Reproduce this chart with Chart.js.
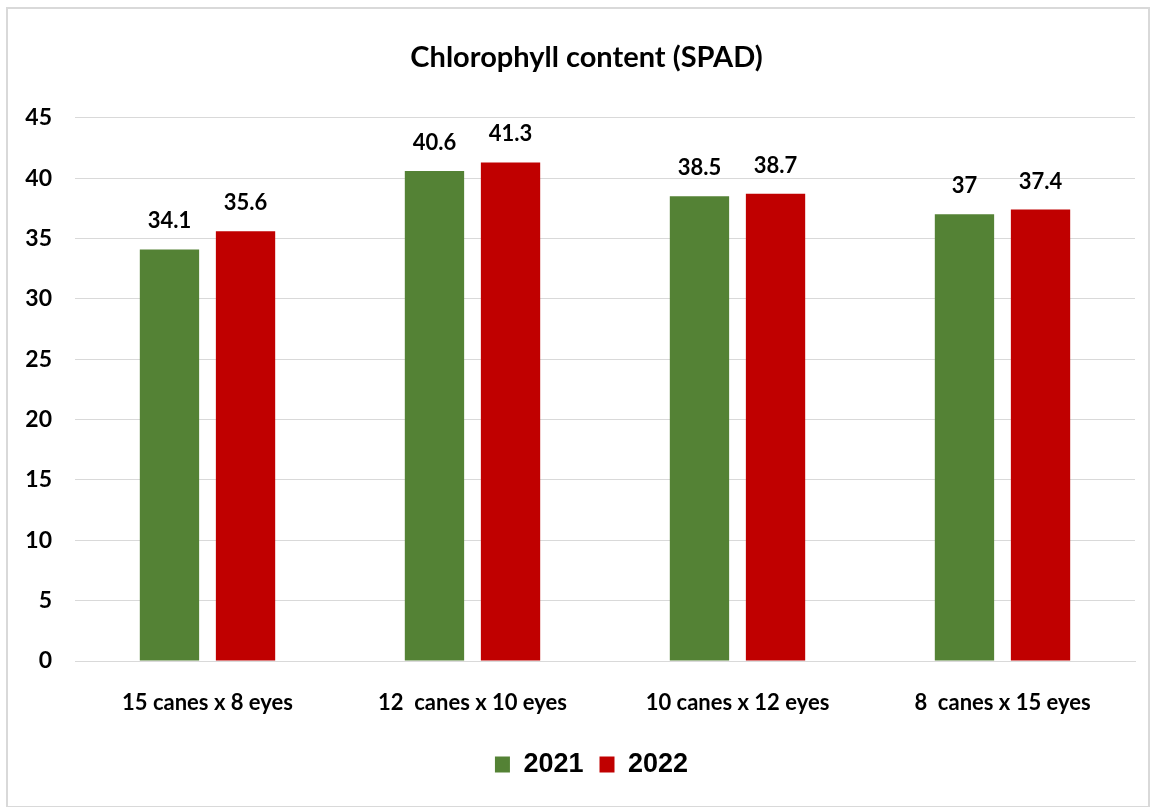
<!DOCTYPE html>
<html>
<head>
<meta charset="utf-8">
<script src="https://cdn.jsdelivr.net/npm/chart.js@4.4.0/dist/chart.umd.min.js"></script>
<style>
  body { margin: 0; background: #fff; }
  #wrap { position: absolute; left: 0; top: 0; width: 1156px; height: 807px; }
  #frame { position: absolute; left: 6px; top: 7px; width: 1140px; height: 797px;
           border: 2px solid #d9d9d9; pointer-events: none; }
</style>
</head>
<body>
<div id="wrap"><canvas id="chart" width="1156" height="807"></canvas></div>
<div id="frame"></div>
<script>
var categories = ["15 canes x 8 eyes", "12  canes x 10 eyes", "10 canes x 12 eyes", "8  canes x 15 eyes"];
var values2021 = [34.1, 40.6, 38.5, 37];
var values2022 = [35.6, 41.3, 38.7, 37.4];
var yTicks = [0, 5, 10, 15, 20, 25, 30, 35, 40, 45];

var labelFont = "Lato, 'Open Sans', sans-serif";

// value labels above each bar
var barValues = {
  id: "barValues",
  afterDatasetsDraw: function(chart) {
    var ctx = chart.ctx;
    ctx.save();
    ctx.font = "bold 22px " + labelFont;
    ctx.fillStyle = "#000";
    ctx.textAlign = "center";
    ctx.textBaseline = "alphabetic";
    chart.data.datasets.forEach(function(ds, i) {
      chart.getDatasetMeta(i).data.forEach(function(bar, j) {
        ctx.fillText(String(ds.data[j]), bar.x, bar.y - 21);
      });
    });
    ctx.restore();
  }
};

// nudge title and legend to the right, like the original
var nudge = {
  id: "nudge",
  afterLayout: function(chart) {
    chart.legend.left += 19; chart.legend.right += 19;
    chart.titleBlock.left += 14; chart.titleBlock.right += 14;
  }
};

new Chart(document.getElementById("chart"), {
  type: "bar",
  data: {
    labels: categories,
    datasets: [
      { label: "2021", data: values2021, backgroundColor: "#548235" },
      { label: "2022", data: values2022, backgroundColor: "#c00000" }
    ]
  },
  options: {
    responsive: false,
    animation: false,
    layout: { padding: { left: 10, right: 21, top: 0, bottom: 19 } },
    datasets: { bar: { categoryPercentage: 0.574, barPercentage: 0.78 } },
    plugins: {
      tooltip: { enabled: false },
      title: {
        display: true,
        text: "Chlorophyll content (SPAD)",
        color: "#000",
        font: { family: labelFont, size: 29, weight: "bold" },
        padding: { top: 40, bottom: 43 }
      },
      legend: {
        position: "bottom",
        labels: {
          color: "#000",
          font: { family: "'Liberation Sans', Arial, sans-serif", size: 27, weight: "bold" },
          boxWidth: 15,
          boxHeight: 16,
          padding: 16
        }
      }
    },
    scales: {
      x: {
        grid: { display: false, drawTicks: false },
        border: { display: true, color: "#d9d9d9", width: 1 },
        ticks: { color: "#000", padding: 29, font: { family: labelFont, size: 22, weight: "bold" } },
        afterFit: function(scale) { scale.height = 74; }
      },
      y: {
        min: 0,
        max: 45,
        afterBuildTicks: function(scale) {
          scale.ticks = yTicks.map(function(v) { return { value: v }; });
        },
        grid: { color: "#d9d9d9", lineWidth: 1, drawTicks: false },
        border: { display: false },
        ticks: { color: "#000", padding: 23, font: { family: labelFont, size: 23, weight: "bold" } },
        afterFit: function(scale) { scale.width = 65; }
      }
    }
  },
  plugins: [barValues, nudge]
});
</script>
</body>
</html>
